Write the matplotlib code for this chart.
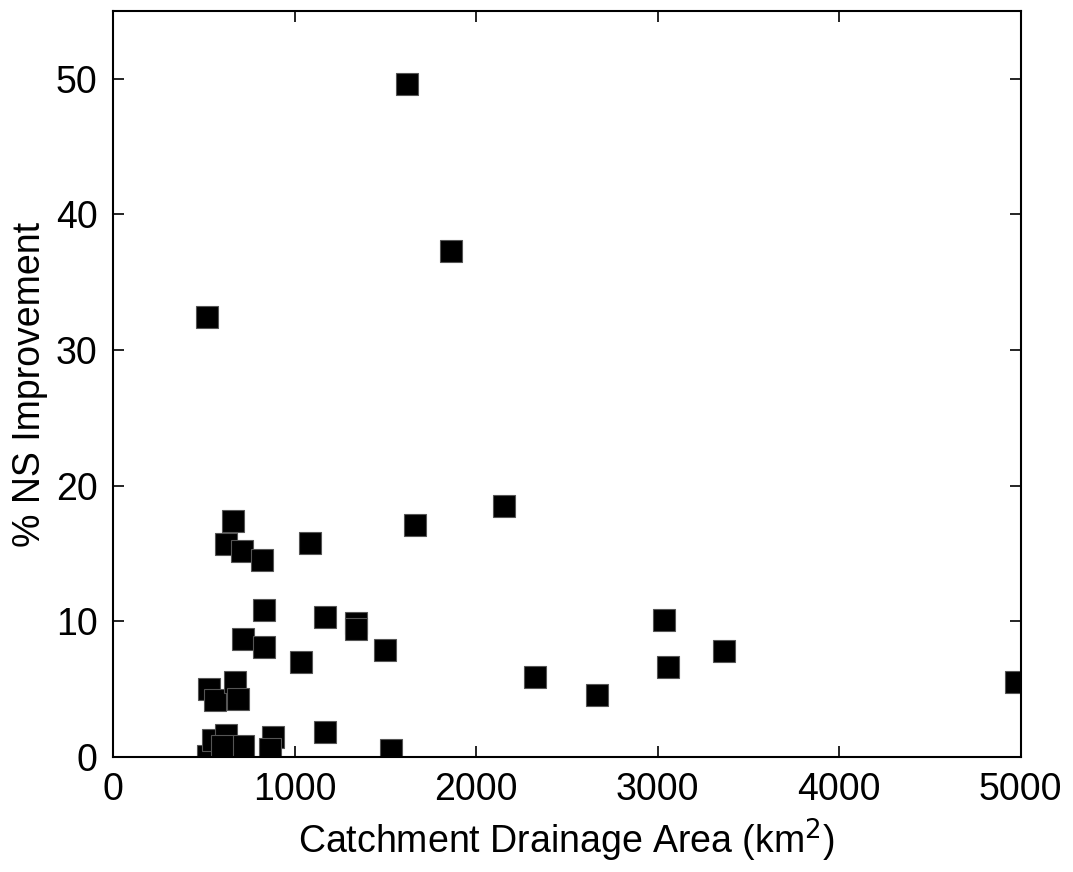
import matplotlib.pyplot as plt

# catchment area (km2) and % NS improvement
area = [1617, 1862, 518, 2155, 659, 622, 709, 821, 1085, 1665,
        830, 1166, 1337, 1337, 714, 832, 1033, 1497, 528, 563,
        672, 687, 1167, 1534, 525, 552, 622, 718, 883, 865,
        598, 2322, 2667, 3037, 3059, 3366, 4976]
improvement = [49.6, 37.3, 32.4, 18.5, 17.4, 15.7, 15.2, 14.5, 15.8, 17.1,
               10.8, 10.3, 9.9, 9.4, 8.7, 8.1, 7.0, 7.9, 5.0, 4.2,
               5.5, 4.3, 1.8, 0.5, 0.1, 1.25, 1.6, 0.8, 1.5, 0.6,
               0.8, 5.9, 4.6, 10.1, 6.6, 7.8, 5.5]

plt.rcParams['font.family'] = ['Liberation Sans', 'DejaVu Sans']

fig = plt.figure(figsize=(10.73, 8.72), dpi=100)
ax = fig.add_axes([0.1053, 0.132, 0.846, 0.8554])

ax.plot(area, improvement, linestyle='none', marker='s', markersize=15.5,
        markerfacecolor='black', markeredgecolor='#555555', markeredgewidth=0.8)

ax.set_xlim(0, 5000)
ax.set_ylim(0, 55)
ax.set_xticks([0, 1000, 2000, 3000, 4000, 5000])
ax.set_yticks([0, 10, 20, 30, 40, 50])
ax.tick_params(direction='in', top=True, right=True, length=8, width=1.2,
               labelsize=27)
ax.tick_params(axis='x', pad=11)
ax.tick_params(axis='y', pad=11)
for s in ax.spines.values():
    s.set_linewidth(1.5)

ax.set_xlabel('Catchment Drainage Area (km$^2$)', fontsize=27, labelpad=6)
ax.set_ylabel('% NS Improvement', fontsize=27, labelpad=6)

fig.savefig('out.png', dpi=100)
